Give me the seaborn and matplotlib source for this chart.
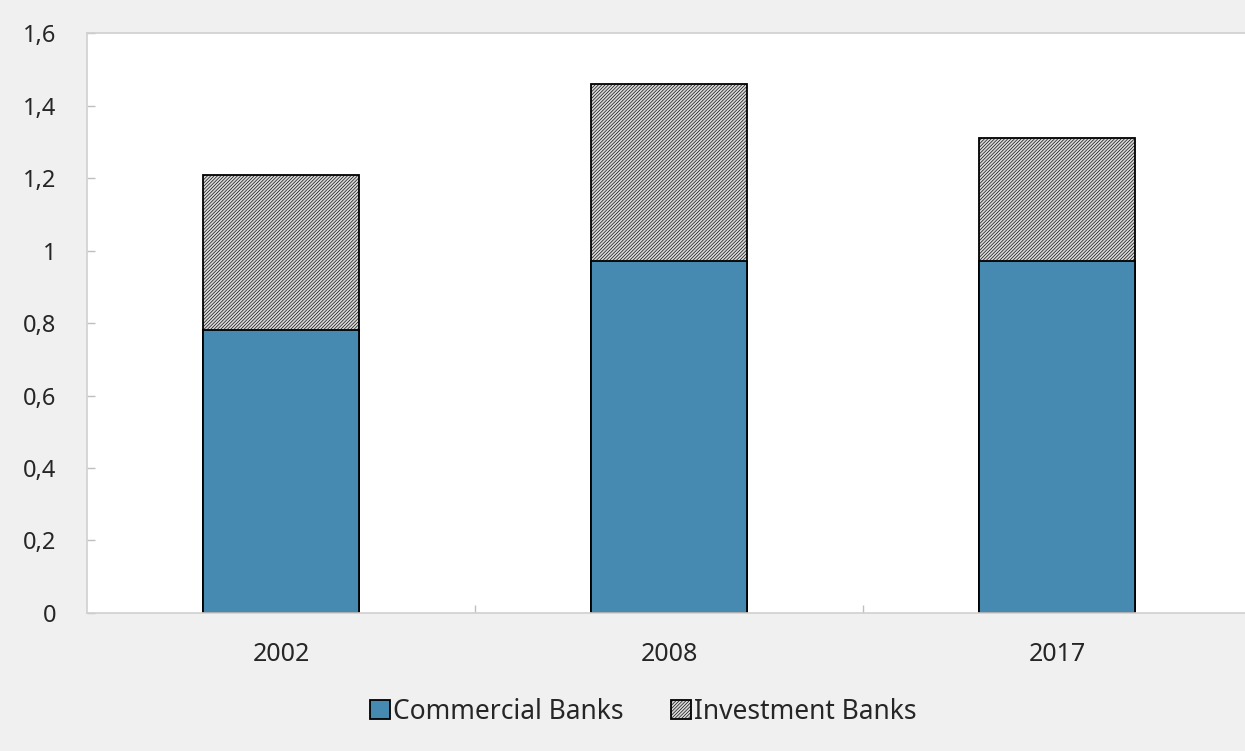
import matplotlib
matplotlib.use("Agg")
import matplotlib.pyplot as plt
from matplotlib.patches import Patch
from matplotlib.ticker import FuncFormatter, FixedLocator
import seaborn as sns
import pandas as pd

years = ["2002", "2008", "2017"]
commercial = [0.78, 0.97, 0.97]
investment = [0.43, 0.49, 0.34]
y_ticks = [0, 0.2, 0.4, 0.6, 0.8, 1.0, 1.2, 1.4, 1.6]

blue = "#4689B1"
hatch_face = "#d8d8d8"
bg = "#f0f0f0"

sns.set_theme(style="white")
plt.rcParams["font.family"] = ["Noto Sans", "DejaVu Sans"]
plt.rcParams["hatch.color"] = "#ababab"
plt.rcParams["hatch.linewidth"] = 0.45

df = pd.DataFrame({"year": years, "commercial": commercial, "investment": investment})
df["total"] = df["commercial"] + df["investment"]

fig = plt.figure(figsize=(12.45, 7.51), dpi=100, facecolor=bg)
ax = fig.add_axes([0.0699, 0.1838, 0.935, 0.772])
ax.set_facecolor("white")

# Full stack height drawn hatched, commercial segment laid over it
sns.barplot(data=df, x="year", y="total", color=hatch_face, width=0.4,
            edgecolor="black", linewidth=1.3, hatch="//////////", ax=ax, saturation=1)
sns.barplot(data=df, x="year", y="commercial", color=blue, width=0.4,
            edgecolor="black", linewidth=1.3, ax=ax, saturation=1)

ax.set_ylim(0, 1.6)
ax.set_xlim(-0.5, 2.5)
ax.set_yticks(y_ticks)
ax.yaxis.set_major_formatter(FuncFormatter(
    lambda v, p: ("%g" % round(v, 1)).replace(".", ",")))
ax.set_xlabel("")
ax.set_ylabel("")

ax.xaxis.set_minor_locator(FixedLocator([0.5, 1.5]))
ax.tick_params(axis="x", which="major", length=0, labelsize=18, pad=21,
               labelcolor="#262626")
ax.tick_params(axis="x", which="minor", direction="in", length=6,
               color="#bfbfbf", width=1, bottom=True)
ax.tick_params(axis="y", which="major", direction="in", length=6,
               color="#bfbfbf", width=1, left=True, labelsize=17, pad=22,
               labelcolor="#262626")

for side in ["left", "bottom", "top", "right"]:
    ax.spines[side].set_visible(True)
    ax.spines[side].set_color("#d0d0d0")
    ax.spines[side].set_linewidth(1.2)

handles = [
    Patch(facecolor=blue, edgecolor="black", linewidth=1.3, label="Commercial Banks"),
    Patch(facecolor=hatch_face, edgecolor="black", linewidth=1.3, hatch="//////////",
          label="Investment Banks"),
]
fig.legend(handles=handles, loc="center", bbox_to_anchor=(0.517, 0.052), ncol=2,
           frameon=False, fontsize=19, handlelength=0.75, handleheight=0.75,
           handletextpad=0.12, columnspacing=1.8, labelcolor="#262626")

fig.savefig("out.png", dpi=100, facecolor=bg)
